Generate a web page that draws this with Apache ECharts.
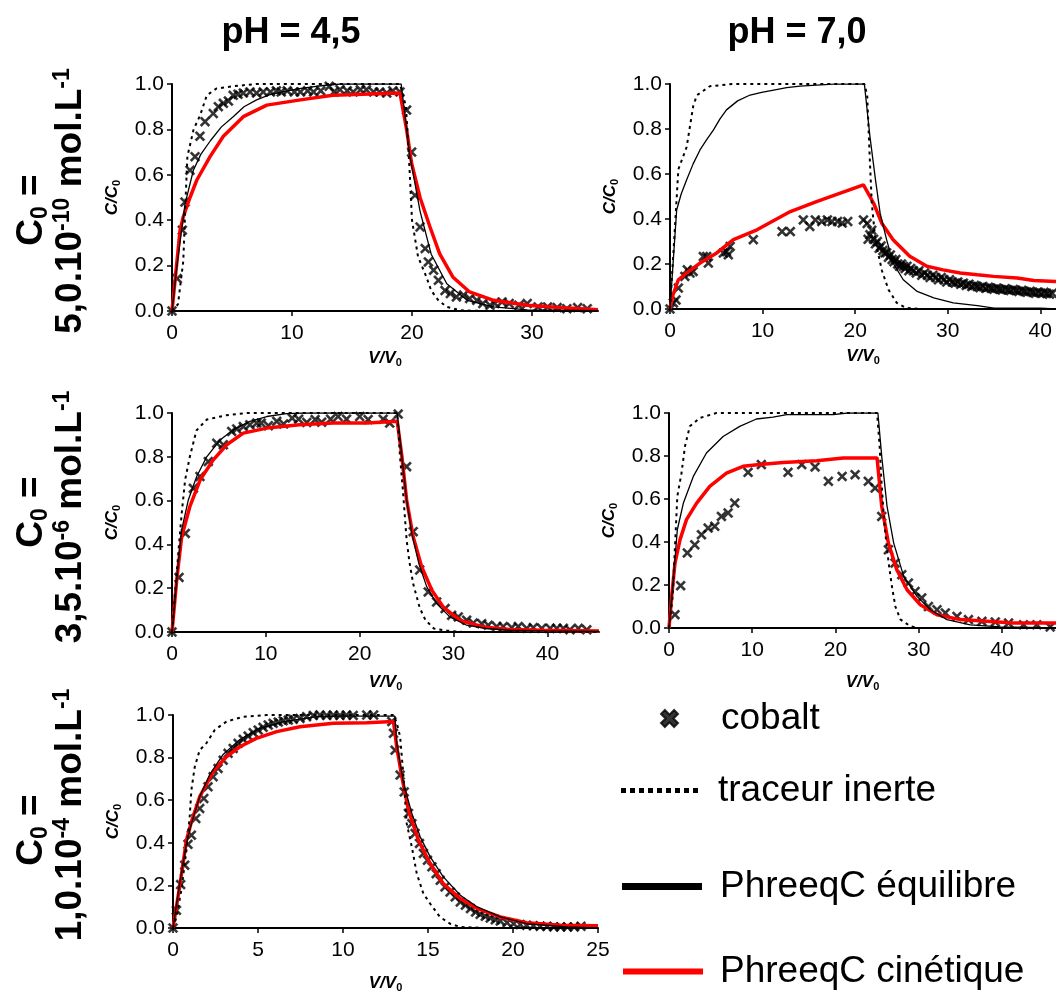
<!DOCTYPE html>
<html>
<head>
<meta charset="utf-8">
<title>Cobalt - courbes de percée</title>
<script src="https://cdn.jsdelivr.net/npm/echarts@6/dist/echarts.min.js"></script>
<style>
html, body { margin: 0; padding: 0; background: #fff; }
#chart { width: 1056px; height: 992px; }
</style>
</head>
<body>
<div id="chart"></div>
<script>
// ---- données : [V/V0, C/C0] ----
var p1Kinetic = [[0,0],[0.67,0.355],[0.94,0.415],[1.5,0.5],[2.06,0.576],[3.17,0.68],[4.28,0.77],[5.94,0.856],[7.9,0.907],[10.7,0.93],[13.4,0.95],[19,0.96],[19.55,0.8],[19.97,0.65],[20.67,0.5],[21.5,0.37],[22.3,0.253],[23.4,0.15],[24.8,0.084],[26.8,0.047],[29.6,0.025],[32.3,0.015],[35.5,0.006]]
var p1Equil = [[0,0],[0.39,0.19],[1.08,0.47],[1.78,0.62],[2.4,0.69],[3.2,0.75],[4.1,0.81],[5.1,0.856],[6,0.9],[7.05,0.93],[8.1,0.952],[9.3,0.966],[10.6,0.98],[12,0.99],[14,1],[19.1,1],[19.8,0.69],[20.67,0.44],[21.6,0.25],[22.9,0.12],[24.6,0.047],[26.8,0.018],[29.6,0.005],[35.5,0.002]]
var p1Tracer = [[0,0],[0.5,0.03],[0.94,0.22],[1.1,0.45],[1.28,0.68],[1.8,0.8],[2.33,0.86],[2.9,0.95],[3.7,0.98],[5.1,0.99],[7,1],[19,1],[19.5,0.9],[19.8,0.62],[20,0.4],[20.5,0.24],[21.2,0.15],[21.6,0.09],[22.2,0.047],[22.9,0.018],[24,0.003],[26,0],[35.5,0]]
var p1Cobalt = [[0,0],[0.44,0.143],[0.86,0.356],[1.08,0.48],[1.5,0.62],[1.92,0.68],[2.33,0.77],[2.75,0.834],[3.44,0.87],[3.86,0.9],[4.28,0.915],[4.7,0.925],[5.1,0.95],[5.5,0.955],[5.94,0.96],[6.5,0.965],[7.05,0.96],[7.6,0.965],[8.2,0.965],[8.7,0.97],[9.1,0.965],[9.6,0.97],[10.2,0.965],[10.7,0.965],[11.3,0.97],[11.8,0.965],[12.4,0.97],[13.1,0.99],[13.5,0.965],[14,0.975],[14.6,0.97],[15.1,0.965],[15.7,0.975],[16.2,0.975],[16.8,0.965],[17.3,0.965],[17.9,0.96],[18.4,0.97],[19,0.965],[19.55,0.885],[19.97,0.7],[20.25,0.51],[20.67,0.37],[21.1,0.275],[21.36,0.216],[21.8,0.18],[22.2,0.135],[22.75,0.09],[23.2,0.077],[23.7,0.062],[24.3,0.07],[24.8,0.055],[25.4,0.047],[25.9,0.033],[26.5,0.025],[26.9,0.033],[27.5,0.04],[28.1,0.033],[28.9,0.025],[29.6,0.033],[30.5,0.018],[31.3,0.018],[32.1,0.015],[32.9,0.01],[33.8,0.015],[34.6,0.01]]

var p2Kinetic = [[0,0],[0.3,0.06],[0.9,0.13],[1.8,0.16],[3.24,0.204],[5.05,0.249],[6.85,0.308],[9.4,0.352],[13,0.433],[15.9,0.478],[18.4,0.515],[20.9,0.552],[22,0.47],[22.9,0.38],[24.1,0.308],[25.9,0.234],[27.75,0.19],[29.5,0.174],[31.35,0.16],[33.2,0.152],[34.95,0.145],[37.5,0.138],[39.3,0.127],[41.7,0.122]]
var p2Equil = [[0,0],[0.72,0.44],[1.2,0.51],[1.8,0.574],[2.5,0.645],[3.24,0.707],[4,0.755],[4.7,0.796],[5.4,0.845],[6.1,0.885],[7.3,0.925],[8.65,0.951],[9.9,0.963],[11.2,0.973],[12.6,0.984],[14.05,0.991],[17.65,0.999],[21,1],[21.6,0.766],[22.2,0.574],[22.7,0.426],[23.4,0.308],[24.1,0.204],[25.2,0.13],[26.7,0.078],[28.5,0.049],[30.6,0.027],[33.2,0.015],[35,0.004],[40,0.004],[41.7,0]]
var p2Tracer = [[0,0],[0.54,0.367],[0.9,0.62],[1.8,0.72],[2.5,0.9],[2.9,0.95],[4.3,0.99],[6.7,1],[21,1],[21.3,0.95],[21.6,0.65],[21.8,0.47],[22.2,0.3],[22.9,0.17],[23.6,0.086],[24.5,0.027],[25.5,0.005],[27,0],[41.7,0]]
var p2Cobalt = [[0,0],[0.36,0.027],[0.65,0.04],[0.9,0.093],[1.6,0.145],[1.87,0.174],[2.16,0.16],[2.5,0.167],[3.6,0.233],[3.96,0.233],[4.14,0.204],[5.76,0.249],[6.1,0.255],[6.3,0.241],[6.5,0.278],[9,0.308],[12.1,0.344],[13,0.344],[14.4,0.396],[15.1,0.367],[15.7,0.396],[16.4,0.389],[17,0.396],[17.5,0.389],[18.1,0.389],[18.6,0.382],[19.2,0.389],[20.9,0.396],
  [21.3,0.38],[21.4,0.31],[21.6,0.33],[21.8,0.35],[22,0.31],[22.2,0.29],[22.4,0.3],[22.6,0.27],[22.8,0.28],[23,0.26],[23.2,0.25],[23.4,0.25],[23.6,0.23],[23.8,0.24],[24,0.22],[24.2,0.21],[24.4,0.22],[24.6,0.2],[24.8,0.19],[25,0.2],[25.2,0.19],[25.4,0.18],[25.6,0.19],[25.8,0.17],[26,0.18],[26.3,0.17],[26.6,0.16],[26.9,0.17],[27.2,0.15],[27.5,0.16],[27.8,0.15],[28.1,0.14],[28.4,0.15],[28.7,0.14],[29,0.13],[29.3,0.14],[29.6,0.13],[29.9,0.12],[30.2,0.13],[30.5,0.12],[30.8,0.115],[31.1,0.12],[31.4,0.11],[31.7,0.115],[32,0.105],[32.3,0.11],[32.6,0.1],[32.9,0.105],[33.2,0.1],[33.5,0.095],[33.8,0.1],[34.1,0.092],[34.4,0.097],[34.7,0.092],[35,0.088],[35.3,0.093],[35.6,0.088],[35.9,0.085],[36.2,0.09],[36.5,0.085],[36.8,0.082],[37.1,0.087],[37.4,0.082],[37.7,0.078],[38,0.083],[38.3,0.078],[38.6,0.074],[38.9,0.079],[39.2,0.074],[39.5,0.07],[39.8,0.075],[40.1,0.07],[40.4,0.074],[40.7,0.069],[41,0.066],[41.3,0.07]]

var p3Kinetic = [[0,0],[0.5,0.237],[1.03,0.435],[1.9,0.572],[3,0.695],[4.4,0.786],[5.83,0.855],[7.6,0.908],[10.1,0.931],[13.6,0.946],[17.2,0.954],[20.8,0.954],[24,0.962],[24.5,0.8],[25,0.603],[25.7,0.435],[26.6,0.298],[27.7,0.19],[28.9,0.114],[30.7,0.053],[33.2,0.023],[36,0.011],[39.6,0.008],[45.5,0.005]]
var p3Equil = [[0,0],[0.67,0.313],[1.03,0.466],[1.74,0.603],[2.63,0.71],[3.7,0.8],[5.15,0.878],[6.55,0.924],[8.3,0.962],[10.1,0.984],[12.2,0.997],[14,1],[24,1],[24.5,0.8],[25,0.603],[25.55,0.45],[26.3,0.313],[27.15,0.206],[28.2,0.13],[29.6,0.069],[31.4,0.031],[33.5,0.016],[36,0.008],[39.6,0.005],[45.5,0.003]]
var p3Tracer = [[0,0],[0.67,0.36],[1.03,0.54],[1.4,0.695],[1.9,0.8],[2.6,0.92],[3.7,0.97],[5.8,0.99],[8,1],[24,1],[24.3,0.8],[24.6,0.65],[25,0.42],[25.3,0.32],[25.7,0.22],[26.4,0.11],[27,0.055],[27.9,0.016],[29.3,0.006],[31,0],[45.5,0]]
var p3Cobalt = [[0,0],[0.75,0.249],[1.42,0.45],[2.27,0.656],[2.98,0.71],[3.87,0.778],[4.77,0.862],[5.47,0.855],[6.36,0.916],[6.9,0.927],[7.6,0.938],[8.3,0.946],[9.03,0.954],[9.5,0.954],[10.27,0.942],[11.16,0.962],[11.9,0.95],[12.8,0.977],[13.5,0.972],[14.36,0.957],[15.25,0.97],[15.95,0.958],[16.9,0.972],[17.7,0.984],[18.6,0.972],[20,0.984],[20.9,0.97],[22.5,0.972],[23.2,0.954],[24.1,0.995],[25,0.755],[25.7,0.458],[26.4,0.283],[27.3,0.183],[28.2,0.137],[29.1,0.107],[29.8,0.076],[30.5,0.069],[31.4,0.054],[32.1,0.041],[33,0.038],[33.7,0.031],[34.6,0.025],[35.3,0.025],[36.2,0.02],[36.9,0.025],[37.8,0.017],[38.5,0.02],[39.4,0.017],[40.3,0.017],[41,0.017],[41.7,0.017],[42.4,0.01],[43.3,0.017],[44.2,0.01]]

var p4Kinetic = [[0,0],[0.32,0.147],[0.72,0.302],[1.32,0.41],[2.1,0.504],[3.3,0.58],[4.9,0.659],[6.9,0.72],[8.9,0.752],[10.9,0.76],[13.7,0.77],[17.75,0.778],[20.95,0.791],[25,0.791],[25.56,0.566],[26.36,0.395],[27.37,0.271],[28.6,0.178],[30.2,0.108],[32.2,0.062],[35,0.039],[38.2,0.031],[41.4,0.023],[46.5,0.023]]
var p4Equil = [[0,0],[0.52,0.225],[1,0.457],[1.72,0.58],[2.92,0.705],[4.5,0.814],[6.5,0.891],[8.5,0.938],[10.5,0.972],[12.5,0.981],[14.15,0.992],[19.75,0.992],[21.4,1],[25.1,1],[25.56,0.798],[26.2,0.566],[27,0.395],[28.2,0.24],[29.8,0.147],[31.4,0.085],[33.4,0.039],[36.2,0.015],[39.8,0.005],[46.5,0]]
var p4Tracer = [[0,0],[0.44,0.147],[0.72,0.38],[1,0.612],[1.5,0.72],[1.92,0.845],[2.5,0.938],[3.7,0.977],[5.7,1],[25,1],[25.3,0.85],[25.5,0.7],[25.8,0.52],[26.1,0.4],[26.4,0.3],[26.8,0.19],[27.2,0.1],[27.8,0.04],[29,0.008],[30,0],[46.5,0]]
var p4Cobalt = [[0.72,0.062],[1.4,0.197],[2.2,0.349],[3.1,0.387],[3.9,0.434],[4.7,0.465],[5.5,0.473],[6.3,0.519],[7.1,0.535],[7.9,0.581],[9.5,0.724],[11.1,0.76],[14.3,0.724],[15.95,0.76],[17.55,0.749],[19.15,0.682],[20.8,0.705],[22.36,0.713],[23.95,0.682],[24.76,0.651],[25.56,0.519],[26.36,0.364],[27.16,0.302],[27.97,0.248],[28.76,0.209],[29.57,0.17],[30.37,0.14],[31.17,0.1],[32.2,0.085],[33.2,0.07],[34.6,0.054],[35.98,0.039],[37.6,0.031],[39.2,0.028],[40.8,0.023],[42.6,0.015],[44.2,0.015],[45.8,0.005]]

var p5Kinetic = [[0,0],[0.39,0.193],[0.79,0.412],[1.08,0.498],[1.57,0.616],[2.36,0.734],[3.14,0.804],[3.93,0.851],[4.9,0.89],[6.1,0.922],[7.47,0.945],[9.43,0.961],[11.4,0.964],[12.97,0.969],[13.16,0.851],[13.46,0.71],[13.85,0.553],[14.44,0.412],[15.13,0.302],[15.9,0.208],[16.9,0.138],[17.9,0.091],[19.25,0.052],[20.8,0.025],[22.8,0.0125],[25,0.011]]
var p5Equil = [[0,0],[0.39,0.208],[0.79,0.397],[1.08,0.49],[1.57,0.616],[2.16,0.72],[2.95,0.815],[3.93,0.885],[5.1,0.937],[6.48,0.969],[8.45,0.992],[10,0.995],[13.05,0.995],[13.16,0.867],[13.56,0.679],[14.05,0.538],[14.54,0.428],[15.13,0.334],[15.9,0.24],[16.9,0.154],[17.9,0.099],[19.25,0.052],[20.8,0.02],[23.2,0.005],[25,0]]
var p5Tracer = [[0,0],[0.2,0.05],[0.49,0.177],[0.79,0.365],[0.98,0.52],[1.08,0.647],[1.28,0.757],[1.57,0.835],[1.96,0.867],[2.46,0.93],[3.14,0.969],[4.13,0.992],[5.5,1],[13,1],[13.2,0.95],[13.36,0.898],[13.56,0.71],[13.75,0.49],[14.05,0.38],[14.34,0.255],[14.73,0.161],[15.13,0.114],[15.7,0.052],[16.3,0.02],[16.9,0.005],[18.3,0],[25,0]]
var p5Cobalt = [[0,0],[0.2,0.083],[0.45,0.204],[0.69,0.295],[0.88,0.393],[1.08,0.436],[1.34,0.514],[1.57,0.561],[1.81,0.608],[2.06,0.663],[2.36,0.71],[2.65,0.749],[2.95,0.788],[3.24,0.82],[3.54,0.843],[3.83,0.867],[4.13,0.886],[4.42,0.901],[4.72,0.917],[5.01,0.929],[5.3,0.942],[5.6,0.953],[5.89,0.961],[6.19,0.967],[6.48,0.973],[6.78,0.976],[7.07,0.98],[7.47,0.984],[7.86,0.992],[8.25,0.998],[8.64,1],[9.04,0.998],[9.43,1],[9.82,0.998],[10.2,1],[10.6,0.998],[11.4,1],[11.8,1],[12.87,0.969],[12.97,0.914],[13.06,0.835],[13.36,0.718],[13.6,0.639],[13.85,0.538],[14.05,0.49],[14.24,0.444],[14.5,0.397],[14.73,0.35],[14.97,0.318],[15.23,0.287],[15.48,0.255],[15.72,0.224],[16,0.193],[16.3,0.169],[16.6,0.146],[16.9,0.122],[17.2,0.107],[17.5,0.091],[17.8,0.075],[18.07,0.064],[18.37,0.055],[18.66,0.047],[18.96,0.039],[19.25,0.033],[19.65,0.025],[20.04,0.02],[20.43,0.016],[20.8,0.0125],[21.2,0.011],[21.6,0.008],[22,0.008],[22.4,0.005],[22.8,0.005],[23.2,0.005],[23.6,0.005],[24,0.008]]

// graduations
var p1Ticks = [0, 10, 20, 30]
var p2Ticks = [0, 10, 20, 30, 40]
var p3Ticks = [0, 10, 20, 30, 40]
var p4Ticks = [0, 10, 20, 30, 40]
var p5Ticks = [0, 5, 10, 15, 20, 25]
var colTitles = ['pH = 4,5', 'pH = 7,0']
var rowConc = ['5,0.10', '3,5.10', '1,0.10']
var rowExp = ['-10', '-6', '-4']

var FONT = '"Liberation Sans", Arial, Helvetica, sans-serif'
var CROSS = 'path://M0,1.6L1.6,0L5,3.4L8.4,0L10,1.6L6.6,5L10,8.4L8.4,10L5,6.6L1.6,10L0,8.4L3.4,5Z'
var CROSS_BOLD = 'path://M0,2.3L2.3,0L5,2.7L7.7,0L10,2.3L7.3,5L10,7.7L7.7,10L5,7.3L2.3,10L0,7.7L2.7,5Z'
var DOTS = 'path://M0,0h5v5h-5zM9,0h5v5h-5zM18,0h5v5h-5zM27,0h5v5h-5zM36,0h5v5h-5zM45,0h5v5h-5zM54,0h5v5h-5zM63,0h5v5h-5zM72,0h5v5h-5z'

// emplacement des 5 graphes
var panels = [
  { grid: { left: 172, top: 84, width: 426, height: 227 }, xMax: 35.5, ticks: p1Ticks, nameGap: 37,
    kin: p1Kinetic, eq: p1Equil, tr: p1Tracer, co: p1Cobalt },
  { grid: { left: 670, top: 84, width: 386, height: 225 }, xMax: 41.7, ticks: p2Ticks, nameGap: 37,
    kin: p2Kinetic, eq: p2Equil, tr: p2Tracer, co: p2Cobalt },
  { grid: { left: 172, top: 413, width: 427, height: 219 }, xMax: 45.5, ticks: p3Ticks, nameGap: 40,
    kin: p3Kinetic, eq: p3Equil, tr: p3Tracer, co: p3Cobalt },
  { grid: { left: 669, top: 413, width: 387, height: 215 }, xMax: 46.5, ticks: p4Ticks, nameGap: 44,
    kin: p4Kinetic, eq: p4Equil, tr: p4Tracer, co: p4Cobalt },
  { grid: { left: 173, top: 715, width: 425, height: 213 }, xMax: 25, ticks: p5Ticks, nameGap: 45,
    kin: p5Kinetic, eq: p5Equil, tr: p5Tracer, co: p5Cobalt }
]

var nameRich = {
  i: { fontSize: 17, fontWeight: 'bold', fontStyle: 'italic', fontFamily: FONT, color: '#000', lineHeight: 20 },
  s: { fontSize: 11, fontWeight: 'bold', fontFamily: FONT, color: '#000', lineHeight: 8, verticalAlign: 'bottom' }
}
var axisLineStyle = { color: '#000', width: 2 }

var grids = [], xAxes = [], yAxes = [], series = []
panels.forEach(function (p, i) {
  grids.push(Object.assign({ outerBoundsMode: 'none', containLabel: false }, p.grid))
  xAxes.push({
    type: 'value', gridIndex: i, min: 0, max: p.xMax,
    name: '{i|V/V}{s|0}', nameLocation: 'middle', nameGap: p.nameGap, nameMoveOverlap: false,
    nameTextStyle: { rich: nameRich },
    axisLine: { onZero: false, lineStyle: axisLineStyle },
    axisTick: { show: true, length: 5, customValues: p.ticks, lineStyle: { color: '#000', width: 1.5 } },
    axisLabel: { customValues: p.ticks, margin: 12, color: '#000', fontSize: 21, fontFamily: FONT },
    splitLine: { show: false }
  })
  yAxes.push({
    type: 'value', gridIndex: i, min: 0, max: 1, interval: 0.2,
    name: '{i|C/C}{s|0}', nameLocation: 'middle', nameGap: 50, nameMoveOverlap: false,
    nameTextStyle: { rich: nameRich },
    axisLine: { show: true, onZero: false, lineStyle: axisLineStyle },
    axisTick: { show: true, length: 5, lineStyle: { color: '#000', width: 1.5 } },
    axisLabel: { margin: 8, color: '#000', fontSize: 21, fontFamily: FONT,
      formatter: function (v) { return v.toFixed(1) } },
    splitLine: { show: false }
  })
  series.push({
    name: 'PhreeqC cinétique', type: 'line', xAxisIndex: i, yAxisIndex: i, data: p.kin,
    symbol: 'none', lineStyle: { color: '#ff0000', width: 3.5 }, itemStyle: { color: '#ff0000' }
  }, {
    name: 'PhreeqC équilibre', type: 'line', xAxisIndex: i, yAxisIndex: i, data: p.eq,
    symbol: 'none', lineStyle: { color: '#000', width: 1.3 }, itemStyle: { color: '#000' }
  }, {
    name: 'traceur inerte', type: 'line', xAxisIndex: i, yAxisIndex: i, data: p.tr,
    symbol: 'none', lineStyle: { color: '#000', width: 2, type: [3, 4] }, itemStyle: { color: '#000' }
  }, {
    name: 'cobalt', type: 'scatter', xAxisIndex: i, yAxisIndex: i, data: p.co,
    symbol: CROSS, symbolSize: 10, itemStyle: { color: '#000', borderColor: '#000', borderWidth: 0.4 }
  })
})

var legendText = { color: '#000', fontSize: 37, fontFamily: FONT }
function oneLegend (item, left, top, w, h, pad) {
  return {
    data: [item], left: left, top: top, padding: 0, itemWidth: w, itemHeight: h,
    selectedMode: false, symbolKeepAspect: false,
    textStyle: Object.assign({ padding: [0, 0, 0, pad] }, legendText)
  }
}

// libellés des lignes (texte vertical)
var rowRich = {
  b: { fontSize: 37, fontWeight: 'bold', fontFamily: FONT, fill: '#000', lineHeight: 40 },
  sub: { fontSize: 23, fontWeight: 'bold', fontFamily: FONT, fill: '#000', lineHeight: 14, verticalAlign: 'bottom' },
  sup: { fontSize: 23, fontWeight: 'bold', fontFamily: FONT, fill: '#000', lineHeight: 14, verticalAlign: 'top' }
}
function vText (x, y, text) {
  return {
    type: 'text', x: x, y: y, rotation: Math.PI / 2,
    style: { text: text, rich: rowRich, fontSize: 37, fontWeight: 'bold', fontFamily: FONT, fill: '#000',
      align: 'center', verticalAlign: 'middle', textAlign: 'center', textVerticalAlign: 'middle' }
  }
}
var rowY1 = [210, 512, 830]
var rowY2 = [201, 517, 815]
var graphics = []
colTitles.forEach(function (t, i) {
  graphics.push({
    type: 'text', x: [291, 797][i], y: 33,
    style: { text: t, fontSize: 36, fontWeight: 'bold', fontFamily: FONT, fill: '#000',
      align: 'center', verticalAlign: 'middle', textAlign: 'center', textVerticalAlign: 'middle' }
  })
})
rowConc.forEach(function (c, i) {
  graphics.push(vText(32, rowY1[i], '{b|C}{sub|0}{b| =}'))
  graphics.push(vText(71, rowY2[i], '{b|' + c + '}{sup|' + rowExp[i] + '}{b| mol.L}{sup|-1}'))
})

var myChart = echarts.init(document.getElementById('chart'), null, { renderer: 'canvas' })
myChart.setOption({
  backgroundColor: '#fff',
  animation: false,
  grid: grids,
  xAxis: xAxes,
  yAxis: yAxes,
  series: series,
  legend: [
    oneLegend({ name: 'cobalt', icon: CROSS_BOLD }, 660, 700, 17, 17, 38),
    oneLegend({ name: 'traceur inerte', icon: DOTS }, 621, 772, 77, 5, 15),
    oneLegend({ name: 'PhreeqC équilibre', icon: 'rect' }, 622, 868, 80, 7, 13),
    oneLegend({ name: 'PhreeqC cinétique', icon: 'rect' }, 623, 953, 80, 6, 12)
  ],
  graphic: graphics
})
window.onresize = myChart.resize
</script>
</body>
</html>
